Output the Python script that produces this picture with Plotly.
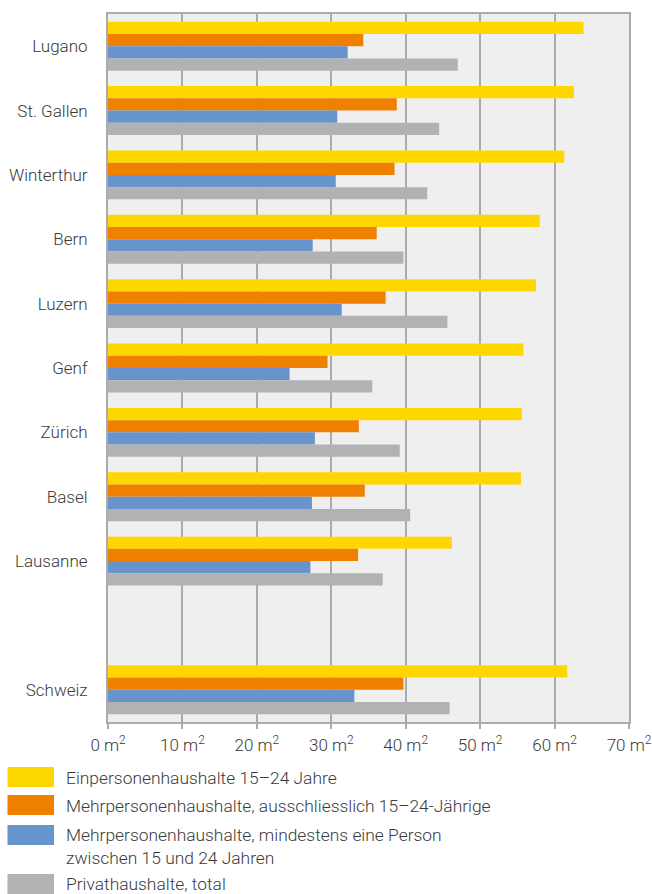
import plotly.graph_objects as go

categories = ["Lugano", "St. Gallen", "Winterthur", "Bern", "Luzern", "Genf",
              "Zürich", "Basel", "Lausanne", " ", "Schweiz"]
einpersonen = [63.9, 62.6, 61.3, 58.0, 57.5, 55.8, 55.6, 55.5, 46.2, None, 61.7]
mehr_ausschl = [34.3, 38.8, 38.5, 36.1, 37.3, 29.5, 33.7, 34.5, 33.6, None, 39.7]
mehr_mind = [32.2, 30.8, 30.6, 27.5, 31.4, 24.4, 27.8, 27.4, 27.2, None, 33.1]
privat_total = [47.0, 44.5, 42.9, 39.7, 45.6, 35.5, 39.2, 40.6, 36.9, None, 45.9]

series_names = [
    "Einpersonenhaushalte 15–24 Jahre",
    "Mehrpersonenhaushalte, ausschliesslich 15–24-Jährige",
    "Mehrpersonenhaushalte, mindestens eine Person<br>zwischen 15 und 24 Jahren",
    "Privathaushalte, total",
]
series_values = [einpersonen, mehr_ausschl, mehr_mind, privat_total]
colors = ["#FFD700", "#F08000", "#6794CC", "#B1B2B3"]

tick_vals = [0, 10, 20, 30, 40, 50, 60, 70]
tick_text = [f"{v} m<sup>2</sup>" for v in tick_vals]

W, H = 652, 894
L, R, T, B = 108, 23, 14, 172
pw, ph = W - L - R, H - T - B

def px(x):
    return (x - L) / pw

def py(y):
    return (H - B - y) / ph

fig = go.Figure()
for name, vals, col in zip(series_names, series_values, colors):
    fig.add_trace(go.Bar(
        y=categories, x=vals, orientation="h", name=name,
        marker=dict(color=col, line=dict(width=0)), showlegend=False,
    ))

font = dict(family="Roboto, sans-serif", size=17, color="#3a3a3a", weight=300)
legend_font = dict(font, size=17.4)

# custom legend
legend_y = [777, 805, 835, 884]
text_y = [778, 806, 847, 884]
for i, (name, col) in enumerate(zip(series_names, colors)):
    fig.add_shape(type="rect", xref="paper", yref="paper",
                  x0=px(7.5), x1=px(54), y0=py(legend_y[i] - 10), y1=py(legend_y[i] + 10),
                  fillcolor=col, line=dict(width=0))
    fig.add_annotation(xref="paper", yref="paper", x=px(64), y=py(text_y[i]),
                       text=name, showarrow=False, xanchor="left", yanchor="middle",
                       align="left", font=legend_font)

fig.update_layout(
    width=W, height=H,
    margin=dict(l=L, r=R, t=T, b=B, autoexpand=False),
    barmode="group", bargap=0.24, bargroupgap=0,
    plot_bgcolor="#EFEFEF", paper_bgcolor="white",
    font=font,
    showlegend=False,
)
fig.update_xaxes(
    range=[0, 70], tickvals=tick_vals, ticktext=tick_text,
    showgrid=True, gridcolor="#ABABAB", gridwidth=1.5,
    showline=True, linecolor="#ABABAB", linewidth=2, mirror=True,
    ticks="outside", ticklen=5, tickcolor="#ABABAB", tickwidth=1.5,
    zeroline=False, tickfont=font, automargin=False, ticklabelstandoff=2,
)
fig.update_yaxes(
    categoryorder="array", categoryarray=categories, autorange="reversed",
    showline=True, linecolor="#ABABAB", linewidth=2, mirror=True,
    showgrid=False, ticks="", ticklabelstandoff=15, tickfont=font, automargin=False,
)

fig.write_html("out.html", config={"displayModeBar": False},
               post_script="document.body.style.margin='0';document.body.style.overflow='hidden';")
